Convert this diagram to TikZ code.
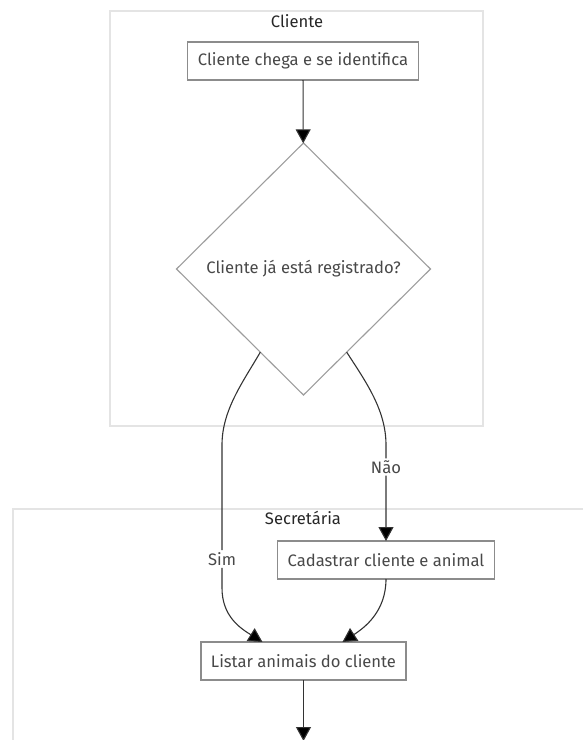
\documentclass[tikz,border=0pt]{standalone}
\usepackage{fontspec}
\setmainfont{Fira Sans}
\usetikzlibrary{calc,shapes.geometric,arrows.meta}
\definecolor{framegray}{HTML}{E4E4E4}
\definecolor{boxgray}{HTML}{8C8C8C}
\definecolor{txtgray}{HTML}{484848}
\definecolor{edgegray}{HTML}{333333}

\begin{document}
\begin{tikzpicture}[x=1pt,y=-1pt,
  frame/.style={draw=framegray, line width=1.6pt},
  grouptitle/.style={text=black!85, font=\fontsize{16.6}{20}\selectfont},
  stepbox/.style={draw=boxgray, line width=1.1pt, fill=white, text=txtgray,
    minimum height=38pt, inner xsep=10pt, outer sep=0pt,
    font=\fontsize{16.6}{20}\selectfont},
  decision/.style={diamond, draw=boxgray!85, line width=1.1pt, fill=white,
    text=txtgray, minimum width=254pt, minimum height=252pt, inner sep=0pt,
    outer sep=0pt, font=\fontsize{16.6}{20}\selectfont},
  edgelabel/.style={fill=white, text=txtgray, inner sep=2pt,
    font=\fontsize{16.6}{20}\selectfont},
  edge/.style={draw=edgegray, line width=1.1pt,
    -{Triangle[length=14pt,width=15pt,fill=black]}}]

\useasboundingbox (0,0) rectangle (583,740);

% groups
\draw[frame] (110,11) rectangle (483,426);
\draw[frame] (13,760) -- (13,509) -- (600,509);
\node[grouptitle] (cliente) at (297,21) {Cliente};
\node[grouptitle] (secretaria) at (303,518) {Secretária};

% steps
\node[stepbox] (chega) at (303,61) {Cliente chega e se identifica};
\node[decision] (registrado) at (303.5,269) {Cliente já está registrado?};
\node[stepbox] (cadastrar) at (386,560) {Cadastrar cliente e animal};
\node[stepbox] (listar) at (303.5,661) {Listar animais do cliente};

\coordinate (ls) at ($(registrado.west)!0.66!(registrado.south)$);
\coordinate (rs) at ($(registrado.east)!0.66!(registrado.south)$);
\coordinate (lin) at ($(listar.north west)!0.3!(listar.north east)$);
\coordinate (rin) at ($(listar.north west)!0.69!(listar.north east)$);
\coordinate (out) at (303.5,741);

\node[edgelabel] (sim) at (222,559) {Sim};
\node[edgelabel] (nao) at (386,467) {Não};

% connectors
\draw[edge] (chega) -- (registrado);
\draw[edge] (ls) .. controls (243,382) and (222,410) .. (222,445) -- (sim)
  -- (222,588) .. controls (222,616) and (240,628) .. (lin);
\draw[edge] (rs) .. controls (366,382) and (386,410) .. (386,445) -- (nao)
  -- (cadastrar);
\draw[edge] (cadastrar.south) .. controls (386,612) and (364,628) .. (rin);
\draw[edge] (listar) -- (out);

\end{tikzpicture}
\end{document}
